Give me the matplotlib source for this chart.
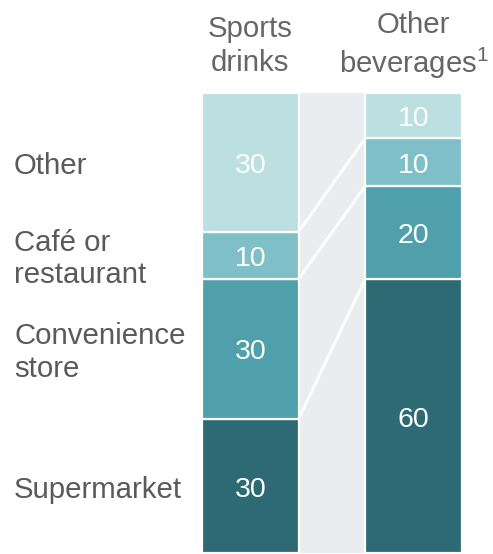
import matplotlib
matplotlib.use("Agg")
import matplotlib.pyplot as plt
from matplotlib.transforms import blended_transform_factory
import numpy as np

# data (shares, %)
channels = ["Supermarket", "Convenience\nstore", "Café or\nrestaurant", "Other"]
products = ["Sports\ndrinks", "Other\nbeverages$^1$"]
sports = [29.2, 30.4, 10.2, 30.2]
other_bev = [59.6, 20.2, 10.4, 9.8]
sports_labels = ["30", "30", "10", "30"]
other_labels = ["60", "20", "10", "10"]

colors = ["#2d6a73", "#4fa0aa", "#7fbfc7", "#bcdfe1"]
band_color = "#e9edf0"
text_grey = "#5a5a5a"
head_grey = "#666666"

plt.rcParams["font.family"] = ["Liberation Sans", "DejaVu Sans"]
plt.rcParams["mathtext.fontset"] = "custom"
plt.rcParams["mathtext.rm"] = "Liberation Sans"

W, H = 493, 554
fig = plt.figure(figsize=(W / 100, H / 100), dpi=100)
ax = fig.add_axes([202 / W, 1 / H, 260 / W, 460 / H])

w = 0.591
xs = [0, 1]
series = [sports, other_bev]
labels = [sports_labels, other_labels]
nudge = -0.8  # small downward shift of text, in data units

ax.axvspan(w / 2, 1 - w / 2, 0, 1, color=band_color, lw=0, zorder=0)

for x, vals, labs in zip(xs, series, labels):
    bottom = 0
    for v, lab, c in zip(vals, labs, colors):
        ax.bar(x, v, w, bottom=bottom, color=c, edgecolor="white", linewidth=1.6, zorder=2)
        ax.text(x, bottom + v / 2 + nudge, lab, ha="center", va="center", color="white",
                fontsize=20.5, zorder=3)
        bottom += v

# connector lines between segment boundaries
c1 = np.cumsum(sports)[:-1]
c2 = np.cumsum(other_bev)[:-1]
for a, b in zip(c1, c2):
    ax.plot([w / 2, 1 - w / 2], [a, b], color="white", lw=2, zorder=1, solid_capstyle="butt")

# channel labels at the left, aligned with the first bar
left_tr = blended_transform_factory(fig.transFigure, ax.transData)
bottom = 0
for v, name in zip(sports, channels):
    ax.text(14 / W, bottom + v / 2 + nudge, name, transform=left_tr,
            ha="left", va="center", color=text_grey, fontsize=21.2, linespacing=1.22)
    bottom += v

# column headers
head_tr = blended_transform_factory(ax.transData, ax.transAxes)
for x, p in zip(xs, products):
    ax.text(x, 1 + 47 / 460, p, transform=head_tr,
            ha="center", va="center", color=head_grey, fontsize=21.2, linespacing=1.25)

ax.set_xlim(-w / 2, 1 + w / 2)
ax.set_ylim(0, 100)
ax.axis("off")

fig.savefig("out.png", dpi=100)
